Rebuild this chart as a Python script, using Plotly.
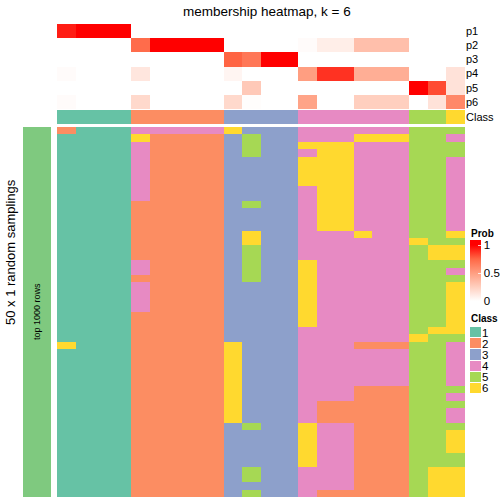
import plotly.graph_objects as go

W = H = 504

title_text = "membership heatmap, k = 6"
side_title = "50 x 1 random samplings"
group_label = "top 1000 rows"
prob_labels = ["p1", "p2", "p3", "p4", "p5", "p6"]
class_names = ["1", "2", "3", "4", "5", "6"]
class_colors = ["#66C2A5", "#FC8D62", "#8DA0CB", "#E78AC3", "#A6D854", "#FFD92F"]
group_color = "#7FC97F"

# membership probabilities, 22 columns
p1 = [0.93, 1, 1, 1, 0, 0, 0, 0, 0, 0, 0, 0, 0, 0, 0, 0, 0, 0, 0, 0, 0, 0]
p2 = [0, 0, 0, 0, 0.73, 1, 1, 1, 1, 0, 0, 0, 0, 0.02, 0.09, 0.09, 0.33, 0.33, 0.33, 0, 0, 0]
p3 = [0, 0, 0, 0, 0, 0, 0, 0, 0, 0.76, 0.68, 1, 1, 0, 0, 0, 0, 0, 0, 0, 0, 0]
p4 = [0.02, 0, 0, 0, 0.13, 0, 0, 0, 0, 0.05, 0, 0, 0, 0.5, 0.88, 0.88, 0.42, 0.42, 0.42, 0, 0, 0.15]
p5 = [0, 0, 0, 0, 0, 0, 0, 0, 0, 0, 0.28, 0, 0, 0, 0, 0, 0, 0, 0, 1, 0.82, 0.15]
p6 = [0.02, 0, 0, 0, 0.2, 0, 0, 0, 0, 0.2, 0.01, 0, 0, 0.47, 0, 0, 0.25, 0.25, 0.25, 0, 0.15, 0.6]

consensus_class = [1, 1, 1, 1, 2, 2, 2, 2, 2, 3, 3, 3, 3, 4, 4, 4, 4, 4, 4, 5, 5, 6]

# class assigned in each of the 50 random samplings (one string per sampling, one digit per column)
samplings = [
    "2111444446333444444555",
    "1111622223533444666554",
    "1111422223533666444555",
    "1111422223533466444555",
    "1111422223333666444554",
    "1111422223333666444554",
    "1111422223333666444554",
    "1111422223333666444554",
    "1111422223333466444554",
    "1111422223333466444554",
    "1111222223533466444554",
    "1111222223333466444554",
    "1111222223333466444554",
    "1111222223333466444554",
    "1111222223633444644556",
    "1111222223633444444655",
    "1111222223533444444566",
    "1111222223533444444566",
    "1111422223533644444555",
    "1111422223533644444554",
    "1111222223533644444555",
    "1111422223333644444556",
    "1111422223333644444556",
    "1111422223333644444556",
    "1111422223333644444556",
    "1111222223333644444556",
    "1111222223333644444556",
    "1111222223333444444566",
    "1111222223333444444655",
    "6111222226333444222554",
    "1111222226333444444554",
    "1111222226333444444554",
    "1111222226333444444554",
    "1111222226333444444554",
    "1111222226333444444554",
    "1111222226333444222555",
    "1111222226333444222554",
    "1111222226333422222555",
    "1111222226333422222554",
    "1111222226333422222554",
    "1111222223533644222555",
    "1111222223333644222556",
    "1111222223333644222556",
    "1111222223333644222556",
    "1111222223333644222555",
    "1111222223333644222555",
    "1111222223533444222566",
    "1111222223533444222566",
    "1111222223333444222566",
    "1111222223533422222566",
]

sampling_z = [[int(ch) for ch in row] for row in samplings]
prob_z = [p1, p2, p3, p4, p5, p6]
ncol = len(consensus_class)
nrow = len(samplings)

# white -> red ramp (Lab-like), extended slightly above 1 so the legend bar
# has a short saturated cap above the "1" break as in the reference
prob_stops = [
    (0.0, "rgb(255,255,255)"),
    (0.25, "rgb(255,207,191)"),
    (0.5, "rgb(255,158,129)"),
    (0.75, "rgb(255,104,70)"),
    (1.0, "rgb(255,0,0)"),
]
zmax_bar = 1.09
prob_scale = [[v / zmax_bar, c] for v, c in prob_stops] + [[1.0, "rgb(255,0,0)"]]

n = len(class_colors)
class_scale = []
for i, c in enumerate(class_colors):
    class_scale.append([i / n, c])
    class_scale.append([(i + 1) / n, c])

def py(px):
    return 1 - px / H

fig = go.Figure()

# probability rows
fig.add_trace(go.Heatmap(
    z=prob_z, x=list(range(ncol)), y=list(range(len(prob_labels))),
    xaxis="x", yaxis="y", zmin=0, zmax=zmax_bar, colorscale=prob_scale,
    hoverinfo="skip",
    colorbar=dict(
        x=470 / W, xanchor="left", xpad=0, y=py(240), yanchor="top", ypad=0,
        len=61, lenmode="pixels", thickness=11, thicknessmode="pixels",
        outlinewidth=0, tickvals=[0, 0.5, 1], ticktext=["0", "0.5", "1"],
        ticks="inside", tickcolor="rgba(255,255,255,0.8)", ticklen=3,
        tickfont=dict(size=11.5, color="black"),
    ),
))

# class row
fig.add_trace(go.Heatmap(
    z=[consensus_class], x=list(range(ncol)), y=[0],
    xaxis="x", yaxis="y2", zmin=0.5, zmax=6.5, colorscale=class_scale,
    showscale=False, hoverinfo="skip",
))

# samplings
fig.add_trace(go.Heatmap(
    z=sampling_z, x=list(range(ncol)), y=list(range(nrow)),
    xaxis="x", yaxis="y3", zmin=0.5, zmax=6.5, colorscale=class_scale,
    showscale=False, hoverinfo="skip",
))

# left group bar
fig.add_trace(go.Heatmap(
    z=[[1] for _ in range(nrow)], x=[0], y=list(range(nrow)),
    xaxis="x2", yaxis="y3", zmin=0, zmax=1,
    colorscale=[[0, group_color], [1, group_color]],
    showscale=False, hoverinfo="skip",
))

# class legend
fig.add_trace(go.Heatmap(
    z=[[i + 1] for i in range(n)], x=[0], y=list(range(n)),
    xaxis="x3", yaxis="y4", zmin=0.5, zmax=6.5, colorscale=class_scale,
    showscale=False, hoverinfo="skip", ygap=1,
))

hidden = dict(visible=False, showgrid=False, zeroline=False, fixedrange=True)

fig.update_layout(
    width=W, height=H,
    margin=dict(l=0, r=0, t=0, b=0),
    paper_bgcolor="white", plot_bgcolor="white",
    font=dict(family="Liberation Sans, Arial, sans-serif", color="black"),
    xaxis=dict(domain=[57 / W, 465 / W], range=[-0.5, ncol - 0.5], **hidden),
    yaxis=dict(domain=[py(109), py(24)], anchor="x", range=[5.5, -0.5],
               side="right", tickvals=list(range(6)), ticktext=prob_labels,
               ticks="", showgrid=False, zeroline=False, showline=False,
               tickfont=dict(size=11), automargin=False),
    yaxis2=dict(domain=[py(124), py(110)], anchor="x", range=[0.5, -0.5],
                side="right", tickvals=[0], ticktext=["Class"],
                ticks="", showgrid=False, zeroline=False, showline=False,
                tickfont=dict(size=11), automargin=False),
    yaxis3=dict(domain=[py(497), py(127)], anchor="x", range=[nrow - 0.5, -0.5], **hidden),
    xaxis2=dict(domain=[23 / W, 51 / W], anchor="y3", range=[-0.5, 0.5], **hidden),
    xaxis3=dict(domain=[470 / W, 481 / W], anchor="y4", range=[-0.5, 0.5], **hidden),
    yaxis4=dict(domain=[py(394), py(327)], anchor="x3", range=[5.5, -0.5],
                side="right", tickvals=list(range(6)), ticktext=class_names,
                ticks="", showgrid=False, zeroline=False, showline=False,
                tickfont=dict(size=11.5), automargin=False),
    annotations=[
        dict(text=title_text, x=267 / W, y=py(11), xref="paper", yref="paper",
             xanchor="center", yanchor="middle", showarrow=False, font=dict(size=13.5)),
        dict(text=side_title, x=10 / W, y=py(252), xref="paper", yref="paper",
             xanchor="center", yanchor="middle", textangle=-90, showarrow=False,
             font=dict(size=13)),
        dict(text=group_label, x=37 / W, y=py(312), xref="paper", yref="paper",
             xanchor="center", yanchor="middle", textangle=-90, showarrow=False,
             font=dict(size=9)),
        dict(text="<b>Prob</b>", x=469 / W, y=py(233), xref="paper", yref="paper",
             xanchor="left", yanchor="middle", showarrow=False, font=dict(size=10)),
        dict(text="<b>Class</b>", x=469 / W, y=py(318), xref="paper", yref="paper",
             xanchor="left", yanchor="middle", showarrow=False, font=dict(size=10)),
    ],
)

fig.write_html("out.html", config={"displayModeBar": False},
               post_script="document.body.style.margin='0';")
